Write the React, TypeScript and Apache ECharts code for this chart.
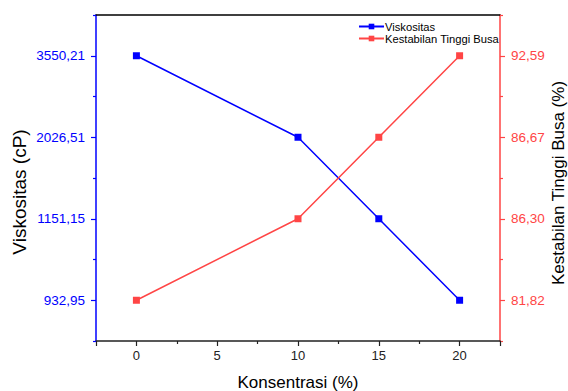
import React, { useEffect, useRef } from "react";
import * as echarts from "echarts";

const concentration = [0, 10, 15, 20];
const viscosityLabels = ["932,95", "1151,15", "2026,51", "3550,21"];
const stabilityLabels = ["81,82", "86,30", "86,67", "92,59"];
const viscosityValues = ["3550,21", "2026,51", "1151,15", "932,95"];
const stabilityValues = ["81,82", "86,30", "86,67", "92,59"];

const BLUE = "#0000FF";
const RED = "#FF4545";
const FONT = "Liberation Sans, Arial, sans-serif";

export default function App() {
  const ref = useRef<HTMLDivElement>(null);
  useEffect(() => {
    if (!ref.current) return;
    const chart = echarts.init(ref.current, null, { renderer: "svg" });
    const catAxis = (
      data: string[],
      pos: "left" | "right",
      color: string,
      major: boolean
    ) => ({
      type: "category",
      position: pos,
      data,
      boundaryGap: true,
      axisLine: { show: major, onZero: false, lineStyle: { color, width: 1.5 } },
      axisTick: {
        show: true,
        interval: 0,
        alignWithLabel: major,
        length: major ? 5 : 3,
        lineStyle: { color, width: 1.2 },
      },
      axisLabel: {
        show: major,
        interval: 0,
        color,
        fontSize: 13.5,
        fontFamily: FONT,
        margin: 11,
      },
      splitLine: { show: false },
    });
    chart.setOption({
      animation: false,
      backgroundColor: "#fff",
      textStyle: { fontFamily: FONT },
      grid: {
        left: 96,
        right: 68,
        top: 15,
        bottom: 50,
        containLabel: false,
        outerBoundsMode: "none",
      },
      legend: {
        orient: "vertical",
        left: 353,
        top: 16,
        itemWidth: 25,
        itemHeight: 7,
        itemGap: 1,
        textStyle: { fontSize: 11.2, color: "#000", fontFamily: FONT, padding: [0, 0, 0, -4] },
        data: ["Viskositas", "Kestabilan Tinggi Busa"],
      },
      graphic: [
        {
          type: "text",
          x: 19.5,
          y: 192,
          rotation: Math.PI / 2,
          style: {
            text: "Viskositas (cP)",
            fill: "#000",
            fontSize: 19,
            fontFamily: FONT,
            align: "center",
            verticalAlign: "middle",
          },
        },
        {
          type: "text",
          x: 558,
          y: 183,
          rotation: Math.PI / 2,
          style: {
            text: "Kestabilan Tinggi Busa (%)",
            fill: "#000",
            fontSize: 17,
            fontFamily: FONT,
            align: "center",
            verticalAlign: "middle",
          },
        },
      ],
      xAxis: [
        {
          type: "value",
          min: -2.5,
          max: 22.5,
          axisLine: { show: true, onZero: false, lineStyle: { color: "#222", width: 1.5 } },
          axisTick: { show: true, length: 5, lineStyle: { color: "#222", width: 1.2 } },
          minorTick: { show: true, splitNumber: 2, length: 3, lineStyle: { color: "#222", width: 1.2 } },
          axisLabel: {
            color: "#222",
            fontSize: 13,
            fontFamily: FONT,
            margin: 8,
            formatter: (v: number) => (Math.abs(v % 5) < 1e-9 ? String(v) : ""),
          },
          splitLine: { show: false },
          minorSplitLine: { show: false },
          name: "Konsentrasi (%)",
          nameLocation: "middle",
          nameGap: 33,
          nameTextStyle: { color: "#000", fontSize: 17, fontFamily: FONT },
        },
        {
          type: "value",
          position: "top",
          min: -2.5,
          max: 22.5,
          axisLine: { show: true, onZero: false, lineStyle: { color: "#000", width: 1.5 } },
          axisTick: { show: false },
          axisLabel: { show: false },
          splitLine: { show: false },
        },
      ],
      yAxis: [
        catAxis(viscosityLabels, "left", BLUE, true),
        catAxis(stabilityLabels, "right", RED, true),
        catAxis(viscosityLabels, "left", BLUE, false),
        catAxis(stabilityLabels, "right", RED, false),
      ],
      series: [
        {
          name: "Viskositas",
          type: "line",
          xAxisIndex: 0,
          yAxisIndex: 0,
          data: concentration.map((c, i) => [c, viscosityValues[i]]),
          symbol: "rect",
          symbolSize: 7,
          itemStyle: { color: BLUE },
          lineStyle: { color: BLUE, width: 1.5 },
        },
        {
          name: "Kestabilan Tinggi Busa",
          type: "line",
          xAxisIndex: 0,
          yAxisIndex: 1,
          data: concentration.map((c, i) => [c, stabilityValues[i]]),
          symbol: "rect",
          symbolSize: 7,
          itemStyle: { color: RED },
          lineStyle: { color: RED, width: 1.5 },
        },
      ],
    });
    return () => chart.dispose();
  }, []);
  return (
    <div
      ref={ref}
      style={{ position: "fixed", left: 0, top: 0, width: 568, height: 391 }}
    />
  );
}
